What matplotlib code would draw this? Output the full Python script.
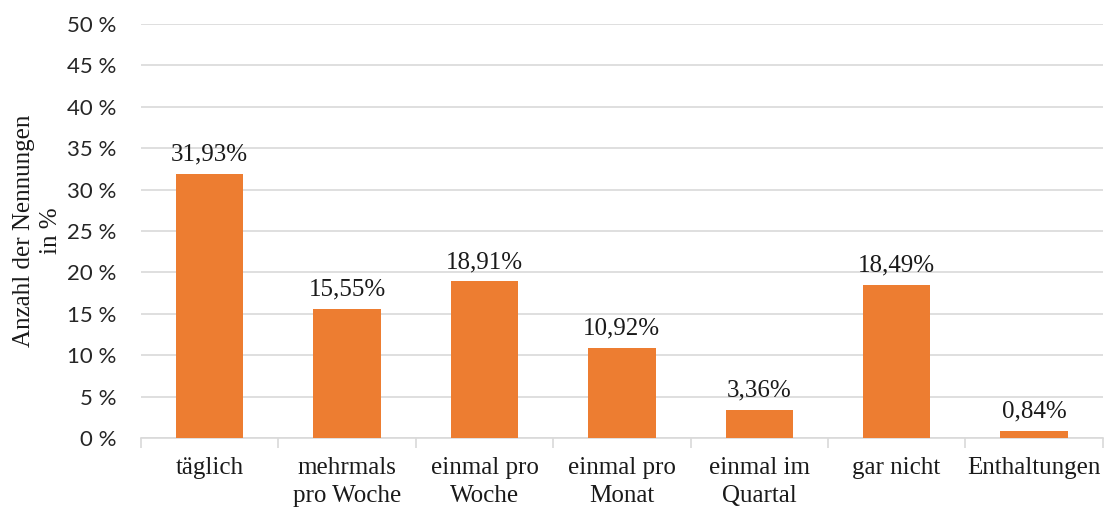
import numpy as np
import matplotlib.pyplot as plt
from matplotlib.ticker import FuncFormatter, MultipleLocator

categories = ['täglich', 'mehrmals\npro Woche', 'einmal pro\nWoche', 'einmal pro\nMonat',
              'einmal im\nQuartal', 'gar nicht', 'Enthaltungen']
values = [31.93, 15.55, 18.91, 10.92, 3.36, 18.49, 0.84]

orange = '#ED7D31'
grid_col = '#D9D9D9'
serif = 'Liberation Serif'

fig = plt.figure(figsize=(11.06, 5.08), dpi=100)
ax = fig.add_axes([0.1275, 0.1378, 0.8695, 0.815])

x = np.arange(len(categories))
bars = ax.bar(x, values, width=0.49, color=orange, zorder=3)

for b, v in zip(bars, values):
    ax.annotate(f'{v:.2f}%'.replace('.', ','), (b.get_x() + b.get_width() / 2, v),
                xytext=(0, 6), textcoords='offset points', ha='center', va='bottom',
                fontsize=18, family=serif, color='#1a1a1a')

ax.set_xlim(-0.5, len(categories) - 0.5)
ax.set_ylim(0, 50)
ax.yaxis.set_major_locator(MultipleLocator(5))
ax.yaxis.set_major_formatter(FuncFormatter(lambda v, _: f'{v:.0f} %'))
ax.grid(axis='y', color=grid_col, linewidth=1.2, zorder=0)

for s in ['top', 'right', 'left']:
    ax.spines[s].set_visible(False)
ax.spines['bottom'].set_color(grid_col)
ax.spines['bottom'].set_linewidth(1.2)

ax.set_xticks(x)
ax.set_xticklabels(categories, family=serif, fontsize=18, color='#1a1a1a', linespacing=1.35)
ax.tick_params(axis='x', length=0, pad=14)
ax.set_xticks(np.arange(len(categories) + 1) - 0.5, minor=True)
ax.tick_params(axis='x', which='minor', length=7, color=grid_col, width=1.2)
ax.tick_params(axis='y', length=0, pad=18, labelsize=16, labelcolor='#262626')
for lbl in ax.get_yticklabels():
    lbl.set_family('Lato')

ax.set_ylabel('Anzahl der Nennungen\nin %', family=serif, fontsize=18,
              color='#1a1a1a', linespacing=1.35, labelpad=3)

fig.savefig('out.png', dpi=100)
